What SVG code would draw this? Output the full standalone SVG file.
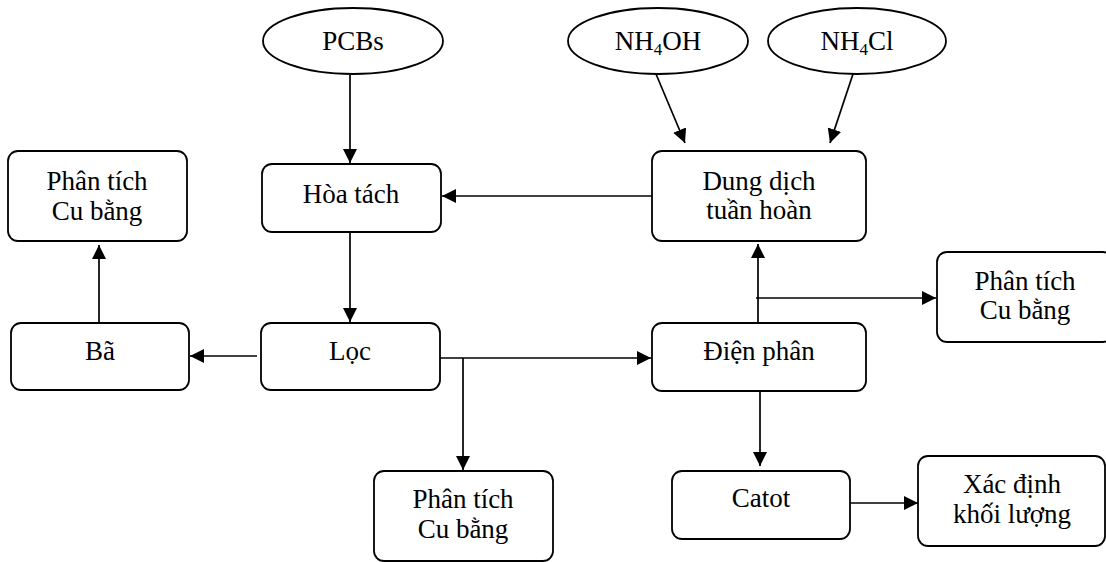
<svg xmlns="http://www.w3.org/2000/svg" width="1106" height="562" viewBox="0 0 1106 562">
<style>
.box{fill:#fff;stroke:#000;stroke-width:1.8}
.t{font-family:"Liberation Serif","Times New Roman",serif;font-size:27px;fill:#000;text-anchor:middle}
.sub{font-size:17px}
.c{fill:none;stroke:#000;stroke-width:1.7}
</style>
<defs>
<marker id="ah" markerUnits="userSpaceOnUse" markerWidth="15" markerHeight="15" viewBox="0 0 15 14" refX="14" refY="7" orient="auto">
<path d="M0,0 L14,7 L0,14 Z" fill="#000"/>
</marker>
</defs>
<rect width="1106" height="562" fill="#fff"/>
<g id="connectors">
<path class="c" d="M350,75 V163" marker-end="url(#ah)"/>
<path class="c" d="M652,196 H442" marker-end="url(#ah)"/>
<path class="c" d="M656,74 L685,143" marker-end="url(#ah)"/>
<path class="c" d="M853,74 L830,143" marker-end="url(#ah)"/>
<path class="c" d="M350,232 V322" marker-end="url(#ah)"/>
<path class="c" d="M257,356 H190" marker-end="url(#ah)"/>
<path class="c" d="M99,323 V245" marker-end="url(#ah)"/>
<path class="c" d="M440,358 H651" marker-end="url(#ah)"/>
<path class="c" d="M463,358 V470" marker-end="url(#ah)"/>
<path class="c" d="M758,323 V244" marker-end="url(#ah)"/>
<path class="c" d="M756,298 H936" marker-end="url(#ah)"/>
<path class="c" d="M760,391 V466" marker-end="url(#ah)"/>
<path class="c" d="M850,503 H918" marker-end="url(#ah)"/>
</g>
<g id="pcbs">
<ellipse class="box" cx="353" cy="41" rx="90" ry="33"/>
<text class="t" x="353" y="50">PCBs</text>
</g>
<g id="nh4oh">
<ellipse class="box" cx="658" cy="41" rx="90" ry="33"/>
<text class="t" x="658" y="50">NH<tspan class="sub" dy="5">4</tspan><tspan dy="-5">OH</tspan></text>
</g>
<g id="nh4cl">
<ellipse class="box" cx="857" cy="41" rx="89" ry="33"/>
<text class="t" x="857" y="50">NH<tspan class="sub" dy="5">4</tspan><tspan dy="-5">Cl</tspan></text>
</g>
<g id="hoatach">
<rect class="box" x="262" y="164" width="179" height="68" rx="10"/>
<text class="t" x="351" y="203">Hòa tách</text>
</g>
<g id="dungdich">
<rect class="box" x="652" y="151" width="214" height="90" rx="10"/>
<text class="t" x="759" y="190">Dung dịch</text>
<text class="t" x="759" y="219">tuần hoàn</text>
</g>
<g id="phantich-left">
<rect class="box" x="8" y="151" width="179" height="90" rx="10"/>
<text class="t" x="97" y="190">Phân tích</text>
<text class="t" x="97" y="220">Cu bằng</text>
</g>
<g id="ba">
<rect class="box" x="11" y="323" width="178" height="67" rx="10"/>
<text class="t" x="100" y="360">Bã</text>
</g>
<g id="loc">
<rect class="box" x="261" y="323" width="179" height="67" rx="10"/>
<text class="t" x="350" y="360">Lọc</text>
</g>
<g id="dienphan">
<rect class="box" x="652" y="323" width="214" height="68" rx="10"/>
<text class="t" x="759" y="360">Điện phân</text>
</g>
<g id="phantich-right">
<rect class="box" x="937" y="252" width="176" height="90" rx="10"/>
<text class="t" x="1025" y="290">Phân tích</text>
<text class="t" x="1025" y="319">Cu bằng</text>
</g>
<g id="phantich-bottom">
<rect class="box" x="374" y="471" width="179" height="90" rx="10"/>
<text class="t" x="463" y="508">Phân tích</text>
<text class="t" x="463" y="538">Cu bằng</text>
</g>
<g id="catot">
<rect class="box" x="672" y="471" width="178" height="68" rx="10"/>
<text class="t" x="761" y="507">Catot</text>
</g>
<g id="xacdinh">
<rect class="box" x="918" y="456" width="187" height="90" rx="10"/>
<text class="t" x="1012" y="493">Xác định</text>
<text class="t" x="1012" y="523">khối lượng</text>
</g>
</svg>
